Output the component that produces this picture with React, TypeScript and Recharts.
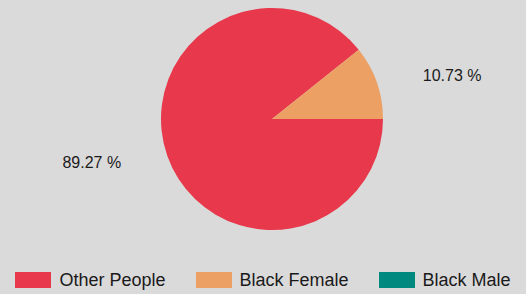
import { PieChart, Pie, Cell, Legend } from 'recharts'

const categories = ['Other People', 'Black Female', 'Black Male']
const shares = [89.27, 10.73, 0]
const COLORS = ['#e8384b', '#eca064', '#00897e']

const data = categories.map((name, i) => ({ name, value: shares[i] }))

const FONT = '"Liberation Sans", Arial, sans-serif'

const renderLabel = (props: any) => {
  const { cx, cy, midAngle, outerRadius, value } = props
  if (!value) return null
  const rad = (Math.PI / 180) * midAngle
  const x = cx + outerRadius * 1.72 * Math.cos(rad)
  const y = cy - outerRadius * 1.18 * Math.sin(rad)
  return (
    <text
      x={x}
      y={y}
      textAnchor="middle"
      dominantBaseline="central"
      fill="#1a1a1a"
      fontSize={16}
      fontFamily={FONT}
    >
      {`${value.toFixed(2)} %`}
    </text>
  )
}

// legend keeps the data order (recharts would sort it by name)
const renderLegend = () => (
  <div style={{ display: 'flex', justifyContent: 'center', gap: 30, fontFamily: FONT }}>
    {categories.map((name, i) => (
      <div key={name} style={{ display: 'flex', alignItems: 'center' }}>
        <span style={{ display: 'inline-block', width: 36, height: 16, background: COLORS[i], marginRight: 8 }} />
        <span style={{ fontSize: 18, color: '#1a1a1a', lineHeight: '20px' }}>{name}</span>
      </div>
    ))}
  </div>
)

export default function App() {
  return (
    <div style={{ position: 'absolute', left: 0, top: 0, width: 526, height: 294, background: '#dadada' }}>
      <PieChart width={526} height={294} margin={{ top: 0, right: 0, bottom: 0, left: 0 }}>
        <Pie
          data={data}
          dataKey="value"
          nameKey="name"
          cx={272}
          cy={119}
          outerRadius={111}
          startAngle={0}
          endAngle={-360}
          stroke="none"
          label={renderLabel}
          labelLine={false}
          isAnimationActive={false}
        >
          {data.map((d, i) => (
            <Cell key={d.name} fill={COLORS[i]} />
          ))}
        </Pie>
        <Legend
          content={renderLegend}
          verticalAlign="bottom"
          wrapperStyle={{ bottom: 4, left: 0, width: 526 }}
        />
      </PieChart>
    </div>
  )
}
